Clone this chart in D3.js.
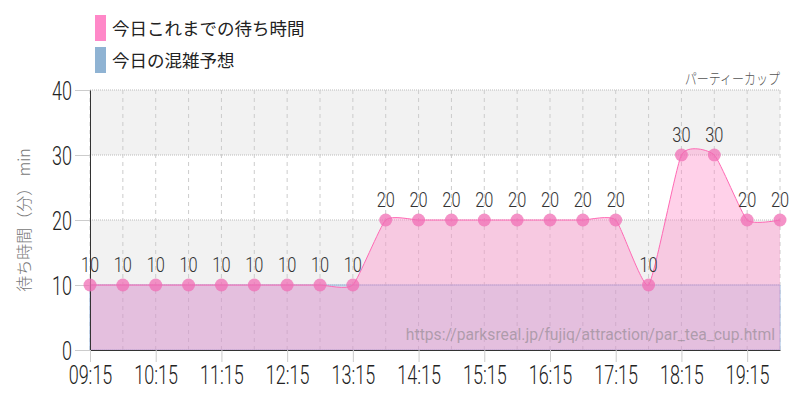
<!DOCTYPE html>
<html lang="ja">
<head>
  <meta charset="UTF-8">
  <title>パーティーカップ</title>
  <style>
    body { margin: 0; background: #fff; }
    svg { display: block; }
    .cond { font-family: Roboto, "Noto Sans", sans-serif; font-weight: 300; }
    .jp { font-family: "Noto Sans CJK JP", "Noto Sans", sans-serif; }
  </style>
</head>
<body>
  <svg width="800" height="400"></svg>

  <script src="https://d3js.org/d3.v7.min.js"></script>
  <script>
    // データ
    const times = ["09:15","09:45","10:15","10:45","11:15","11:45","12:15","12:45","13:15","13:45",
                   "14:15","14:45","15:15","15:45","16:15","16:45","17:15","17:45","18:15","18:45",
                   "19:15","19:45"];
    const waitToday = [10,10,10,10,10,10,10,10,10,20,20,20,20,20,20,20,20,10,30,30,20,20];
    const forecast  = [10,10,10,10,10,10,10,10,10,10,10,10,10,10,10,10,10,10,10,10,10,10];
    const xTickLabels = ["09:15","10:15","11:15","12:15","13:15","14:15","15:15","16:15","17:15","18:15","19:15"];
    const yTicks = [0,10,20,30,40];
    const legendLabels = ["今日これまでの待ち時間","今日の混雑予想"];
    const legendColors = ["#ff88c8","#8fb3d3"];

    const svg = d3.select("svg");
    const margin = { top: 90, right: 20, bottom: 50, left: 90 };
    const width = 800, height = 400;
    const sx = 0.72;   // 軸の数字を細く
    const sxLab = 0.78; // 点ラベル

    const parse = d3.timeParse("%H:%M");
    const x = d3.scaleTime()
      .domain([parse(times[0]), parse(times[times.length - 1])])
      .range([margin.left, width - margin.right]);
    const y = d3.scaleLinear().domain([0, 40]).range([height - margin.bottom, margin.top]);

    // 背景の帯
    svg.append("g").selectAll("rect")
      .data([[10,20],[30,40]])
      .join("rect")
      .attr("x", x.range()[0])
      .attr("width", x.range()[1] - x.range()[0])
      .attr("y", d => y(d[1]))
      .attr("height", d => y(d[0]) - y(d[1]))
      .attr("fill", "#f2f2f2");

    // 横グリッド
    svg.append("g").selectAll("line")
      .data(yTicks)
      .join("line")
      .attr("x1", x.range()[0]).attr("x2", x.range()[1])
      .attr("y1", d => y(d)).attr("y2", d => y(d))
      .attr("stroke", "#bbb")
      .attr("stroke-dasharray", "1,1");

    // 縦グリッド
    svg.append("g").selectAll("line")
      .data(times)
      .join("line")
      .attr("x1", d => x(parse(d))).attr("x2", d => x(parse(d)))
      .attr("y1", y(40)).attr("y2", y(0) + 3)
      .attr("stroke", "#ccc")
      .attr("stroke-dasharray", "4,4");

    const pts = times.map((t, i) => ({ t: parse(t), v: waitToday[i], f: forecast[i] }));

    // 予想エリア
    svg.append("path")
      .datum(pts)
      .attr("fill", "rgba(143,179,211,0.4)")
      .attr("stroke", "#9bb8e0")
      .attr("stroke-width", 1)
      .attr("d", d3.area().x(d => x(d.t)).y0(y(0)).y1(d => y(d.f)));

    // 待ち時間エリア
    const curve = d3.curveCardinal.tension(0.5);
    svg.append("path")
      .datum(pts)
      .attr("fill", "rgba(255,140,200,0.4)")
      .attr("d", d3.area().curve(curve).x(d => x(d.t)).y0(y(0)).y1(d => y(d.v)));
    svg.append("path")
      .datum(pts)
      .attr("fill", "none")
      .attr("stroke", "#ff69b4")
      .attr("stroke-width", 1)
      .attr("d", d3.line().curve(curve).x(d => x(d.t)).y(d => y(d.v)));

    // 軸
    const yAxis = svg.append("g")
      .attr("transform", `translate(${margin.left},0)`)
      .call(d3.axisLeft(y).tickValues(yTicks).tickSize(15).tickSizeOuter(0).tickPadding(3));
    yAxis.select(".domain").attr("stroke", "#333");
    yAxis.selectAll(".tick line").attr("stroke", "#ccc");
    yAxis.selectAll("text")
      .attr("class", "cond").attr("font-size", 25).attr("font-weight", 400).attr("fill", "#222")
      .attr("x", -18 / sx).attr("dy", "0.36em")
      .attr("transform", `scale(${sx},1)`);

    const xAxis = svg.append("g")
      .attr("transform", `translate(0,${y(0)})`)
      .call(d3.axisBottom(x).tickValues(xTickLabels.map(parse)).tickFormat(d3.timeFormat("%H:%M"))
        .tickSize(12).tickSizeOuter(0));
    xAxis.select(".domain").attr("stroke", "#333");
    xAxis.selectAll(".tick line").attr("stroke", "#ccc");
    xAxis.selectAll("text")
      .attr("class", "cond").attr("font-size", 25).attr("font-weight", 400).attr("fill", "#222")
      .attr("y", 34).attr("dy", 0)
      .attr("transform", `scale(${sx},1)`);

    // 点とラベル
    svg.append("g").selectAll("circle")
      .data(pts)
      .join("circle")
      .attr("cx", d => x(d.t)).attr("cy", d => y(d.v))
      .attr("r", 6.5)
      .attr("fill", "rgba(240,110,180,0.75)");

    svg.append("g").selectAll("text")
      .data(pts)
      .join("text")
      .attr("class", "cond")
      .attr("transform", d => `translate(${x(d.t)},${y(d.v) - 13}) scale(${sxLab},1)`)
      .attr("text-anchor", "middle")
      .attr("font-size", 21)
      .attr("font-weight", 400)
      .attr("fill", "#333")
      .text(d => d.v);

    // ウォーターマーク
    svg.append("text")
      .attr("x", 775).attr("y", 340)
      .attr("text-anchor", "end")
      .attr("font-family", "Roboto, sans-serif")
      .attr("font-size", 15.7)
      .attr("fill", "rgba(120,120,120,0.5)")
      .text("https://parksreal.jp/fujiq/attraction/par_tea_cup.html");

    // タイトル
    svg.append("text")
      .attr("class", "jp")
      .attr("transform", `translate(780,84) scale(0.8,1)`)
      .attr("text-anchor", "end")
      .attr("font-size", 15)
      .attr("font-weight", 300)
      .attr("fill", "#555")
      .text("パーティーカップ");

    // 軸タイトル
    svg.append("text")
      .attr("class", "jp")
      .attr("transform", `translate(30,${y(20)}) rotate(-90)`)
      .attr("text-anchor", "middle")
      .attr("font-size", 16)
      .attr("font-weight", 300)
      .attr("fill", "#777")
      .text("待ち時間（分） min");

    // 凡例
    const legend = svg.append("g").selectAll("g")
      .data(legendLabels)
      .join("g")
      .attr("transform", (d, i) => `translate(95,${15 + i * 32})`);
    legend.append("rect")
      .attr("width", 11).attr("height", 26)
      .attr("fill", (d, i) => legendColors[i]);
    legend.append("text")
      .attr("class", "jp")
      .attr("x", 17).attr("y", 20)
      .attr("font-size", 17.5)
      .attr("fill", "#222")
      .text(d => d);
  </script>
</body>
</html>
